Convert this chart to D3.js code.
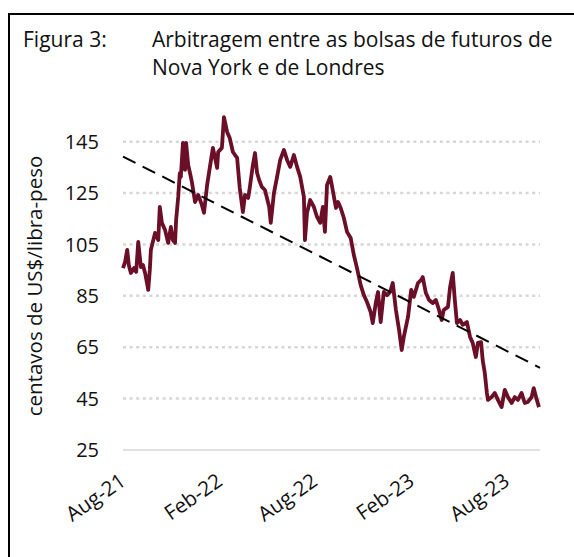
<!DOCTYPE html>
<html>
<head>
<meta charset="utf-8">
<script src="https://cdn.jsdelivr.net/npm/d3@7"></script>
<style>
  body { margin: 0; background: #fff; }
  svg { display: block; }
  .lbl { font-family: "Open Sans", sans-serif; fill: #111; }
</style>
</head>
<body>
<svg id="chart"></svg>
<script>
// chart size (the page is 574x557)
const width = 574;
const height = 557;

// data (centavos de US$/libra-peso)
const dates = [
  "2021-08-01","2021-08-05","2021-08-09","2021-08-12","2021-08-16","2021-08-22","2021-08-26","2021-08-30",
  "2021-09-04","2021-09-08","2021-09-12","2021-09-18","2021-09-21","2021-09-23","2021-10-01","2021-10-07",
  "2021-10-10","2021-10-14","2021-10-20","2021-10-26","2021-10-31","2021-11-04","2021-11-08","2021-11-10",
  "2021-11-14","2021-11-17","2021-11-19","2021-11-23","2021-11-27","2021-11-29","2021-12-03","2021-12-06",
  "2021-12-10","2021-12-16","2021-12-22","2021-12-29","2022-01-02","2022-01-08","2022-01-13","2022-01-19",
  "2022-01-27","2022-01-29","2022-02-05","2022-02-09","2022-02-15","2022-02-20","2022-02-26","2022-03-06",
  "2022-03-11","2022-03-17","2022-03-21","2022-03-27","2022-03-30","2022-04-05","2022-04-09","2022-04-13",
  "2022-04-17","2022-04-22","2022-04-28","2022-05-06","2022-05-09","2022-05-15","2022-05-21","2022-05-27",
  "2022-06-03","2022-06-09","2022-06-15","2022-06-22","2022-06-28","2022-07-04","2022-07-11","2022-07-13",
  "2022-07-17","2022-07-23","2022-07-30","2022-08-05","2022-08-11","2022-08-16","2022-08-20","2022-08-24",
  "2022-08-30","2022-09-02","2022-09-10","2022-09-14","2022-09-19","2022-09-25","2022-10-01","2022-10-08",
  "2022-10-14","2022-10-20","2022-10-27","2022-11-02","2022-11-08","2022-11-15","2022-11-19","2022-11-25",
  "2022-11-29","2022-12-04","2022-12-10","2022-12-16","2022-12-22","2022-12-27","2023-01-02","2023-01-08",
  "2023-01-13","2023-01-17","2023-01-25","2023-01-31","2023-02-05","2023-02-13","2023-02-19","2023-02-22",
  "2023-02-28","2023-03-06","2023-03-13","2023-03-19","2023-03-25","2023-03-30","2023-04-03","2023-04-11",
  "2023-04-15","2023-04-20","2023-04-24","2023-04-28","2023-05-04","2023-05-09","2023-05-17","2023-05-23",
  "2023-05-28","2023-06-03","2023-06-07","2023-06-13","2023-06-16","2023-06-20","2023-06-24","2023-06-26",
  "2023-07-03","2023-07-09","2023-07-15","2023-07-22","2023-07-28","2023-08-03","2023-08-10","2023-08-16",
  "2023-08-22","2023-08-29","2023-09-04","2023-09-10","2023-09-17","2023-09-21","2023-09-27","2023-10-01"
];
const values = [
  95.8, 98.2, 102.9, 97.0, 93.9, 95.8, 94.3, 106.0,
  96.2, 97.0, 93.9, 87.3, 95.1, 102.9, 109.5, 106.7,
  119.6, 113.4, 110.6, 105.6, 111.8, 106.7, 105.6, 114.5,
  123.5, 132.8, 131.3, 144.5, 134.0, 144.5, 135.9, 133.2,
  129.3, 121.5, 124.3, 120.4, 117.3, 128.2, 134.8, 142.6,
  134.8, 141.0, 142.6, 154.6, 148.8, 146.4, 141.0, 138.7,
  127.0, 117.6, 124.3, 123.1, 127.0, 135.9, 140.6, 132.8,
  130.1, 127.4, 126.2, 119.6, 113.4, 125.0, 131.3, 137.9,
  141.8, 137.9, 135.2, 139.8, 135.2, 131.3, 123.5, 106.7,
  117.3, 122.3, 119.6, 115.7, 113.4, 119.6, 109.9, 128.2,
  131.3, 128.2, 119.2, 121.5, 119.2, 115.3, 109.9, 107.5,
  100.9, 95.8, 89.2, 85.3, 82.6, 78.7, 74.4, 82.6,
  86.5, 74.8, 86.5, 85.3, 86.5, 90.0, 79.5, 71.7,
  63.9, 69.0, 76.8, 87.3, 84.6, 90.0, 91.2, 92.3,
  86.1, 83.4, 82.2, 83.4, 79.5, 75.6, 79.5, 80.7,
  88.4, 93.9, 83.4, 74.4, 75.6, 73.7, 74.8, 69.0,
  66.7, 61.2, 66.7, 67.0, 60.0, 55.0, 47.2, 44.5,
  45.6, 47.2, 44.5, 41.7, 48.4, 45.6, 43.3, 45.6,
  44.5, 47.2, 43.3, 43.7, 45.6, 49.1, 44.5, 41.7
];

// linear trend, start and end values
const trendDates = ["2021-08-01", "2023-10-03"];
const trendValues = [139.2, 57.0];

const yTicks = [25, 45, 65, 85, 105, 125, 145];
const xTickDates = ["2021-08-01", "2022-02-01", "2022-08-01", "2023-02-01", "2023-08-01"];

const parse = d3.timeParse("%Y-%m-%d");
const data = dates.map((d, i) => ({ date: parse(d), value: values[i] }));
const trend = trendDates.map((d, i) => ({ date: parse(d), value: trendValues[i] }));

const svg = d3.select("#chart")
    .attr("width", width)
    .attr("height", height);

// frame
svg.append("rect")
    .attr("x", 9).attr("y", 14)
    .attr("width", 620).attr("height", 620)
    .attr("fill", "none")
    .attr("stroke", "#000")
    .attr("stroke-width", 2);

// title
svg.append("text").attr("class", "lbl")
    .attr("x", 23).attr("y", 47)
    .attr("font-size", 21)
    .text("Figura 3:");
svg.append("text").attr("class", "lbl")
    .attr("x", 152).attr("y", 47)
    .attr("font-size", 21)
    .text("Arbitragem entre as bolsas de futuros de");
svg.append("text").attr("class", "lbl")
    .attr("x", 152).attr("y", 75)
    .attr("font-size", 21)
    .text("Nova York e de Londres");

const x = d3.scaleTime()
    .domain([parse("2021-08-01"), parse("2023-10-03")])
    .range([123, 540]);

const y = d3.scaleLinear()
    .domain([25, 145])
    .range([450, 141.7]);

// gridlines
svg.append("g")
    .selectAll("line")
    .data(yTicks)
    .enter()
    .append("line")
    .attr("x1", 123)
    .attr("x2", 540)
    .attr("y1", d => y(d))
    .attr("y2", d => y(d))
    .attr("stroke", "#d6d6d6")
    .attr("stroke-width", d => d === 25 ? 1.5 : 2.5)
    .attr("stroke-dasharray", d => d === 25 ? null : "3,3.6");

// y tick labels
svg.append("g")
    .selectAll("text")
    .data(yTicks)
    .enter()
    .append("text")
    .attr("class", "lbl")
    .attr("x", 99)
    .attr("y", d => y(d))
    .attr("dy", "0.36em")
    .attr("text-anchor", "end")
    .attr("font-size", 20)
    .text(d => d);

// y axis title
svg.append("text")
    .attr("class", "lbl")
    .attr("transform", "translate(42,286) rotate(-90)")
    .attr("text-anchor", "middle")
    .attr("font-size", 20.5)
    .text("centavos de US$/libra-peso");

// x tick labels
const fmt = d3.timeFormat("%b-%y");
svg.append("g")
    .selectAll("text")
    .data(xTickDates)
    .enter()
    .append("text")
    .attr("class", "lbl")
    .attr("transform", d => "translate(" + (x(parse(d)) + 4) + ",484) rotate(-35)")
    .attr("text-anchor", "end")
    .attr("font-size", 20.5)
    .text(d => fmt(parse(d)));

// series
const line = d3.line()
    .x(d => x(d.date))
    .y(d => y(d.value));

svg.append("path")
    .datum(data)
    .attr("d", line)
    .attr("fill", "none")
    .attr("stroke", "#6b0e27")
    .attr("stroke-width", 3.8)
    .attr("stroke-linejoin", "round");

// trend line
svg.append("path")
    .datum(trend)
    .attr("d", line)
    .attr("fill", "none")
    .attr("stroke", "#000")
    .attr("stroke-width", 2)
    .attr("stroke-dasharray", "14,8");
</script>
</body>
</html>
